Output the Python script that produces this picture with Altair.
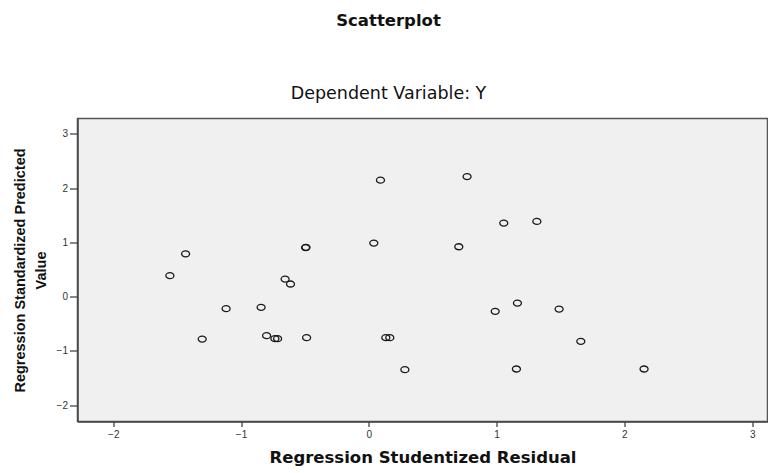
import altair as alt
import pandas as pd

# Regression Studentized Residual (x) and Regression Standardized Predicted Value (y)
resid_x = [-1.557, -1.434, -1.304, -1.117, -0.843, -0.800, -0.735, -0.714,
           -0.655, -0.613, -0.495, -0.492, -0.487, 0.039, 0.091, 0.133,
           0.164, 0.282, 0.704, 0.769, 0.989, 1.056, 1.155, 1.163,
           1.315, 1.489, 1.659, 2.154]
pred_y = [0.387, 0.790, -0.780, -0.220, -0.196, -0.718, -0.773, -0.773,
          0.326, 0.234, 0.905, 0.910, -0.755, 0.989, 2.149, -0.755,
          -0.755, -1.344, 0.921, 2.215, -0.270, 1.357, -1.332, -0.117,
          1.387, -0.227, -0.823, -1.332]

x_ticks = [-2, -1, 0, 1, 2, 3]
y_ticks = [-2, -1, 0, 1, 2, 3]

df = pd.DataFrame({"resid": resid_x, "pred": pred_y})

ellipse = "M -1 0 A 1 0.75 0 1 0 1 0 A 1 0.75 0 1 0 -1 0 Z"

chart = alt.Chart(df).mark_point(
    shape=ellipse, size=64, filled=False, stroke="#1a1a1a", strokeWidth=1.3, opacity=1
).encode(
    x=alt.X("resid:Q",
            scale=alt.Scale(domain=[-2.28, 3.12], nice=False, zero=False),
            axis=alt.Axis(values=x_ticks, format="d", title="Regression Studentized Residual",
                          tickSize=5, labelPadding=3, titlePadding=10,
                          titleFont="DejaVu Sans", titleFontSize=16.5, titleFontWeight="bold")),
    y=alt.Y("pred:Q",
            scale=alt.Scale(domain=[-2.30, 3.285], nice=False, zero=False),
            axis=alt.Axis(values=y_ticks, format="d",
                          title=["Regression Standardized Predicted", "Value"],
                          tickSize=8, labelPadding=2, titlePadding=8,
                          titleFont="Liberation Sans", titleFontSize=14.5,
                          titleFontWeight="bold", titleLineHeight=21)),
).properties(
    width=690,
    height=303,
    title=alt.TitleParams(
        "Scatterplot",
        subtitle="Dependent Variable: Y",
        font="DejaVu Sans", fontSize=16.5, fontWeight="bold", color="#111",
        subtitleFont="DejaVu Sans", subtitleFontSize=17.5, subtitleColor="#111",
        subtitleFontWeight=500,
        subtitlePadding=56, offset=16, anchor="middle", dx=-34,
    ),
    autosize=alt.AutoSizeParams(type="none"),
    padding={"left": 69.5, "top": 110.5, "right": 0, "bottom": 50},
).configure_view(
    fill="#f0f0f0", stroke="#555555", strokeWidth=1.5
).configure_axis(
    grid=False, domainColor="#444444", domainWidth=1.5, tickColor="#444444",
    tickWidth=1.3, labelFont="Liberation Sans", labelFontSize=10, labelColor="#333333",
    titleColor="#111111"
)

chart.save("out.html", embed_options={"renderer": "svg", "actions": False})
